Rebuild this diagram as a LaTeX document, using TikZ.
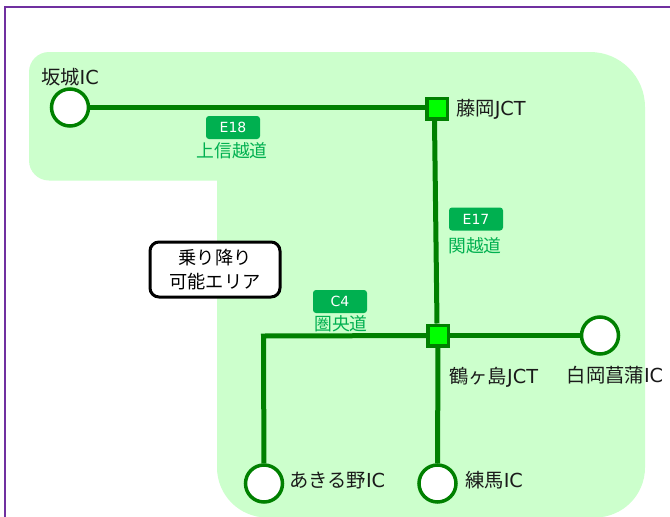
\documentclass[tikz,border=0pt]{standalone}
\usepackage{fontspec}
\setmainfont{Noto Sans CJK JP}
\newfontfamily\latinfont{DejaVu Sans}
\newcommand{\lat}[1]{{\latinfont #1}}
\definecolor{areagreen}{HTML}{CCFFCC}
\definecolor{roadgreen}{HTML}{008000}
\definecolor{badgegreen}{HTML}{00B050}
\definecolor{jctgreen}{HTML}{00FF00}
\definecolor{framepurple}{HTML}{7030A0}
\definecolor{labelblack}{HTML}{1A1A1A}
\tikzset{
  road/.style={draw=roadgreen,line width=5pt},
  icnode/.style={circle,draw=roadgreen,line width=3.5pt,fill=white,minimum size=37pt,inner sep=0pt},
  jctnode/.style={rectangle,draw=roadgreen,line width=3.5pt,fill=jctgreen,minimum size=20.5pt,inner sep=0pt},
  badge/.style={rectangle,rounded corners=3pt,fill=badgegreen,text=white,minimum width=54pt,minimum height=23pt,inner sep=0pt,font=\fontsize{14}{14}\selectfont\latinfont},
  roadname/.style={text=badgegreen,inner sep=0pt,font=\fontsize{17.8}{18}\selectfont},
  place/.style={text=labelblack,inner sep=0pt,font=\fontsize{19.3}{20}\selectfont},
  notebox/.style={rectangle,rounded corners=9pt,draw=black,line width=3pt,fill=white,minimum width=130pt,minimum height=55pt,inner sep=0pt,align=center,font=\fontsize{18.2}{24}\selectfont}
}
\begin{document}
\begin{tikzpicture}[x=1pt,y=-1pt]
\useasboundingbox (0,0) rectangle (670,517);
\fill[white] (0,0) rectangle (670,517);
\begin{scope}
\clip (0,0) rectangle (670,517);
\draw[framepurple,line width=2.4pt] (5,530) -- (5,7) -- (680,7);
\fill[areagreen] (100,52) [rounded corners=55pt] -- (645,52) [rounded corners=50pt] -- (645,517.5) -- (217,517.5) [sharp corners] -- (217,180.5) [rounded corners=20pt] -- (29,180.5) -- (29,52) [sharp corners] -- cycle;
\end{scope}
\node[icnode] (sakaki) at (70,107.5) {};
\node[jctnode] (fujioka) at (437,108.5) {};
\node[jctnode] (tsuru) at (438,335.5) {};
\node[icnode] (shiraoka) at (600,335.5) {};
\node[icnode] (akiruno) at (264,483.5) {};
\node[icnode] (nerima) at (437.5,483.5) {};
\coordinate (corner) at (263.5,336);
\draw[road] (sakaki.east) -- (sakaki.east -| fujioka.west);
\draw[road] ([xshift=-2.5pt]fujioka.south) -- ([xshift=-1pt]tsuru.north);
\draw[road] (tsuru) -- (shiraoka);
\draw[road] (tsuru) -- (nerima);
\draw[road,line join=miter] (tsuru) -- (corner) -- (akiruno);
\node[jctnode] at (fujioka) {};
\node[jctnode] at (tsuru) {};
\node[badge] (e18) at (233,127.5) {E18};
\node[roadname] (joshinetsu) at (232,150.5) {上信越道};
\node[badge] (e17) at (476,219) {E17};
\node[roadname] (kanetsu) at (475,246) {関越道};
\node[badge] (c4) at (340,301.5) {C4};
\node[roadname] (kenou) at (341,324) {圏央道};
\node[notebox] (note) at (215,269.5) {乗り降り\\可能エリア};
\node[place] (lsakaki) at (70,77) {坂城\lat{IC}};
\node[place,anchor=west] (lfujioka) at (456,109.5) {藤岡\lat{JCT}};
\node[place,anchor=west] (ltsuru) at (449,377) {鶴ヶ島\lat{JCT}};
\node[place] (lshiraoka) at (615,375) {白岡菖蒲\lat{IC}};
\node[place,anchor=west] (lakiruno) at (289,481) {あきる野\lat{IC}};
\node[place,anchor=west] (lnerima) at (465,480.5) {練馬\lat{IC}};
\end{tikzpicture}
\end{document}
